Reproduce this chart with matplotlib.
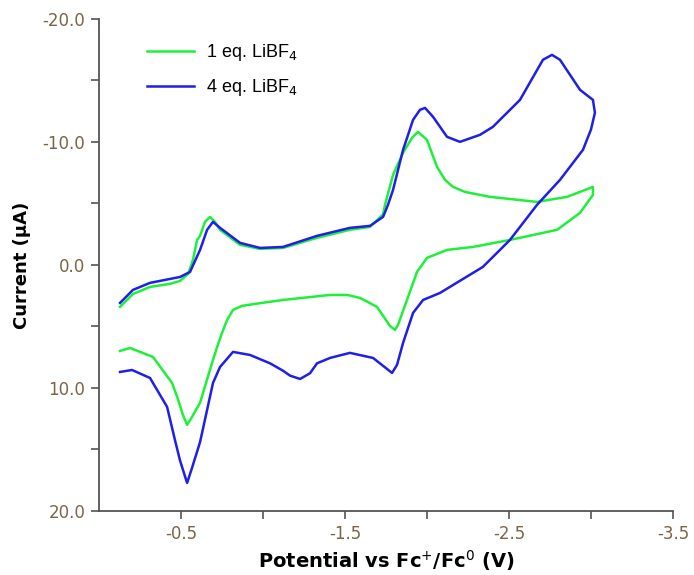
import matplotlib
matplotlib.use("Agg")
import matplotlib.pyplot as plt
from matplotlib.ticker import FixedLocator, FormatStrFormatter

plt.rcParams['axes.unicode_minus'] = False

# Potential (V vs Fc+/Fc0) and current (uA) for each scan
green_v = [-0.128, -0.207, -0.311, -0.433, -0.494, -0.543, -0.573, -0.598, -0.616, -0.646,
           -0.677, -0.707, -0.738, -0.860, -0.982, -1.122, -1.329, -1.530, -1.652, -1.732,
           -1.744, -1.793, -1.854, -1.909, -1.945, -2.000, -2.061, -2.110, -2.159, -2.232,
           -2.323, -2.384, -2.671, -2.854, -3.012, -3.012, -2.933, -2.793, -2.506, -2.280,
           -2.122, -2.000, -1.939, -1.878, -1.823, -1.805, -1.774, -1.695, -1.591, -1.512,
           -1.409, -1.122, -0.951, -0.872, -0.817, -0.781, -0.750, -0.720, -0.695, -0.659,
           -0.616, -0.565, -0.537, -0.512, -0.476, -0.445, -0.329, -0.250, -0.189, -0.128]
green_i = [3.41, 2.36, 1.79, 1.54, 1.30, 0.73, -0.41, -2.03, -2.36, -3.50,
           -3.90, -3.50, -2.85, -1.63, -1.30, -1.38, -2.20, -2.85, -3.09, -4.10,
           -4.88, -7.32, -9.11, -10.33, -10.81, -10.16, -7.97, -6.91, -6.34, -5.93,
           -5.69, -5.53, -5.12, -5.53, -6.34, -5.69, -4.23, -2.85, -2.03, -1.46,
           -1.22, -0.57, 0.57, 2.85, 4.88, 5.28, 4.96, 3.41, 2.68, 2.44,
           2.44, 2.85, 3.17, 3.33, 3.66, 4.47, 5.53, 6.67, 7.72, 9.3,
           11.2, 12.4, 13.0, 12.2, 10.7, 9.59, 7.48, 7.07, 6.75, 6.99]

blue_v = [-0.128, -0.207, -0.311, -0.494, -0.555, -0.616, -0.659, -0.695, -0.738, -0.860,
          -0.982, -1.122, -1.329, -1.530, -1.652, -1.732, -1.762, -1.793, -1.854, -1.915,
          -1.957, -1.988, -2.037, -2.122, -2.201, -2.323, -2.402, -2.567, -2.707, -2.762,
          -2.811, -2.933, -3.012, -3.024, -3.000, -2.951, -2.811, -2.671, -2.506, -2.341,
          -2.079, -1.976, -1.915, -1.854, -1.817, -1.787, -1.671, -1.530, -1.409, -1.329,
          -1.287, -1.226, -1.165, -1.122, -1.043, -0.921, -0.817, -0.738, -0.695, -0.616,
          -0.567, -0.537, -0.494, -0.463, -0.415, -0.311, -0.201, -0.128]
blue_i = [3.09, 2.03, 1.46, 0.98, 0.57, -1.22, -2.85, -3.50, -3.01, -1.79,
          -1.38, -1.46, -2.36, -3.01, -3.17, -3.90, -4.88, -6.10, -9.35, -11.79,
          -12.60, -12.76, -12.03, -10.41, -10.00, -10.57, -11.22, -13.41, -16.67, -17.07,
          -16.67, -14.23, -13.41, -12.36, -11.0, -9.35, -6.91, -4.88, -2.03, 0.16,
          2.28, 2.85, 3.90, 6.34, 8.13, 8.78, 7.56, 7.15, 7.56, 8.0,
          8.8, 9.27, 9.0, 8.6, 8.0, 7.32, 7.07, 8.29, 9.59, 14.4,
          16.5, 17.72, 15.9, 14.23, 11.54, 9.19, 8.54, 8.70]

labels = ['1 eq. LiBF$_4$', '4 eq. LiBF$_4$']
x_major = [-0.5, -1.5, -2.5, -3.5]
x_minor = [-1.0, -2.0, -3.0]
y_major = [-20.0, -10.0, 0.0, 10.0, 20.0]
y_minor = [-15.0, -5.0, 5.0, 15.0]

fig = plt.figure(figsize=(6.94, 5.75), dpi=100)
ax = fig.add_axes([0.1427, 0.1113, 0.827, 0.856])

ax.plot(green_v, green_i, color='#1ef03a', lw=1.8, label=labels[0], solid_joinstyle='round')
ax.plot(blue_v, blue_i, color='#1f1fe8', lw=1.8, label=labels[1], solid_joinstyle='round')

ax.set_xlim(0, -3.5)
ax.set_ylim(20, -20)
ax.xaxis.set_major_locator(FixedLocator(x_major))
ax.xaxis.set_minor_locator(FixedLocator(x_minor))
ax.yaxis.set_major_locator(FixedLocator(y_major))
ax.yaxis.set_minor_locator(FixedLocator(y_minor))
ax.xaxis.set_major_formatter(FormatStrFormatter('%.1f'))
ax.yaxis.set_major_formatter(FormatStrFormatter('%.1f'))

for s in ['top', 'right']:
    ax.spines[s].set_visible(False)
for s in ['left', 'bottom']:
    ax.spines[s].set_color('#555555')
    ax.spines[s].set_linewidth(1.3)

ax.tick_params(which='both', direction='out', length=6, width=1.2, color='#555555')
ax.tick_params(which='major', labelsize=12, labelcolor='#7a6448', pad=4)

ax.set_ylabel('Current (μA)', fontsize=13, fontweight='bold', labelpad=8)
ax.set_xlabel('Potential vs Fc$^{+}$/Fc$^{0}$ (V)', fontsize=14, fontweight='bold', labelpad=4)

leg = ax.legend(loc='upper left', bbox_to_anchor=(0.055, 0.985), frameon=False,
                prop={'family': 'Liberation Sans', 'size': 13},
                handlelength=2.6, handletextpad=0.7, labelspacing=0.75)

fig.savefig('out.png', dpi=100)
